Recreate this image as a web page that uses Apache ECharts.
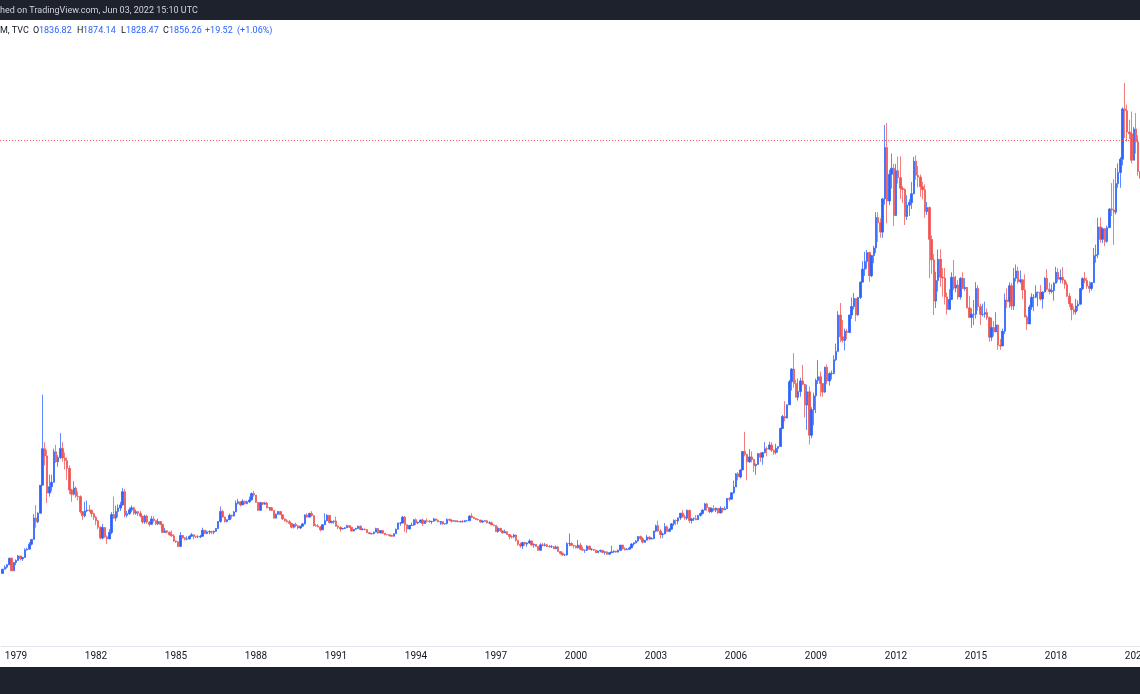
<!DOCTYPE html>
<html>
<head>
<meta charset="utf-8">
<title>Gold monthly</title>
<script src="https://cdn.jsdelivr.net/npm/echarts@6/dist/echarts.min.js"></script>
<style>
  html, body { margin: 0; padding: 0; background: #ffffff; }
  #chart { width: 1140px; height: 694px; }
</style>
</head>
<body>
<div id="chart"></div>
<script>
// monthly candles visible in the frame: Jul 1978 .. Mar 2021
const firstYear = 1978;
const firstMonth = 7;
const firstOpen = 184;

const closes = [
  200.3, 208.1, 217.1, 242.6, 194.0, 226.0,                      // 1978 (Jul-Dec)
  233.7, 251.3, 240.1, 245.3, 274.6, 277.5, 296.5, 315.1, 397.3, 382.8, 415.7, 524.0, // 1979
  665, 637, 494, 518, 535, 653, 614, 631, 666, 629, 619, 589,    // 1980
  506, 489, 513, 482, 480, 422, 406, 425, 428, 427, 414, 400,    // 1981
  387, 362, 320, 361, 325, 317, 342, 411, 397, 423, 436, 448,    // 1982
  499, 408, 414, 429, 437, 416, 422, 416, 405, 382, 405, 382,    // 1983
  373, 394, 388, 375, 384, 373, 342, 348, 343, 333, 329, 309,    // 1984
  306, 288, 330, 321, 316, 317, 327, 333, 326, 325, 325, 327,    // 1985
  350, 338, 344, 345, 343, 346, 357, 384, 423, 401, 384, 391,    // 1986
  408, 405, 421, 454, 460, 448, 462, 453, 460, 467, 492, 486,    // 1987
  458, 427, 457, 451, 455, 437, 437, 427, 397, 412, 423, 410,    // 1988
  394, 387, 383, 377, 362, 373, 368, 359, 366, 375, 409, 401,    // 1989
  415, 407, 368, 367, 363, 352, 372, 387, 408, 380, 384, 386,    // 1990
  366, 362, 355, 357, 360, 368, 362, 347, 354, 357, 366, 353,    // 1991
  354, 353, 341, 337, 337, 343, 357, 340, 349, 339, 334, 333,    // 1992
  330, 327, 337, 354, 378, 378, 401, 372, 355, 369, 370, 391,    // 1993
  378, 381, 390, 376, 387, 385, 384, 385, 394, 389, 383, 383,    // 1994
  375, 376, 392, 389, 385, 387, 383, 383, 384, 383, 387, 387,    // 1995
  405, 400, 396, 392, 390, 382, 385, 387, 379, 379, 371, 369,    // 1996
  345, 358, 348, 340, 345, 334, 326, 325, 332, 311, 296, 290,    // 1997
  303, 297, 301, 309, 293, 296, 288, 273, 294, 292, 294, 288,    // 1998
  287, 287, 279, 286, 268, 261, 255, 255, 299, 299, 292, 290,    // 1999
  283, 293, 277, 273, 273, 289, 277, 277, 273, 264, 270, 273,    // 2000
  265, 267, 258, 264, 267, 270, 266, 273, 293, 279, 275, 277,    // 2001
  282, 297, 302, 309, 326, 318, 304, 312, 324, 317, 318, 347,    // 2002
  368, 347, 334, 336, 364, 346, 354, 375, 388, 386, 398, 416,    // 2003
  402, 397, 427, 388, 394, 395, 391, 407, 415, 428, 452, 438,    // 2004
  422, 434, 428, 435, 417, 435, 429, 433, 473, 470, 495, 517,    // 2005
  568, 556, 583, 654, 643, 614, 633, 623, 599, 604, 646, 632,    // 2006
  650, 665, 663, 679, 659, 650, 666, 673, 743, 789, 783, 834,    // 2007
  923, 972, 916, 863, 885, 926, 913, 833, 884, 717, 815, 869,    // 2008
  928, 942, 916, 883, 979, 926, 954, 955, 1008, 1040, 1180, 1096, // 2009
  1082, 1118, 1113, 1180, 1213, 1244, 1181, 1248, 1307, 1357, 1387, 1421, // 2010
  1332, 1410, 1439, 1556, 1536, 1500, 1628, 1826, 1620, 1723, 1746, 1564, // 2011
  1737, 1710, 1669, 1664, 1560, 1604, 1614, 1648, 1773, 1719, 1712, 1675, // 2012
  1663, 1579, 1595, 1472, 1393, 1234, 1313, 1395, 1326, 1323, 1250, 1202, // 2013
  1240, 1326, 1284, 1296, 1250, 1322, 1282, 1287, 1208, 1171, 1183, 1183, // 2014
  1283, 1213, 1183, 1183, 1190, 1171, 1095, 1132, 1115, 1142, 1064, 1061, // 2015
  1118, 1238, 1232, 1293, 1215, 1322, 1350, 1309, 1316, 1277, 1173, 1146, // 2016
  1211, 1249, 1249, 1268, 1268, 1242, 1269, 1322, 1280, 1271, 1275, 1303, // 2017
  1345, 1318, 1325, 1315, 1298, 1253, 1224, 1201, 1192, 1215, 1222, 1282, // 2018
  1321, 1313, 1292, 1283, 1305, 1409, 1413, 1520, 1472, 1513, 1464, 1517, // 2019
  1589, 1585, 1577, 1687, 1730, 1781, 1975, 1968, 1886, 1879, 1777, 1898, // 2020
  1848, 1734, 1708                                               // 2021 (Jan-Mar)
];

const highs = [
  201, 215, 220, 243, 245, 227,
  238, 255, 252, 248, 281, 283, 305, 316, 412, 447, 420, 524,
  873, 690, 660, 565, 565, 665, 680, 640, 725, 690, 650, 630,
  600, 510, 540, 520, 500, 485, 425, 460, 465, 448, 430, 418,
  405, 390, 365, 375, 362, 330, 355, 420, 480, 445, 450, 460,
  513, 510, 425, 438, 446, 440, 430, 425, 425, 405, 410, 410,
  385, 405, 405, 388, 395, 385, 375, 360, 350, 345, 350, 335,
  312, 308, 343, 332, 324, 327, 330, 340, 334, 330, 331, 333,
  360, 351, 350, 350, 348, 350, 359, 386, 442, 430, 403, 392,
  415, 410, 425, 465, 471, 460, 470, 465, 465, 480, 496, 502,
  486, 458, 457, 458, 460, 460, 440, 440, 425, 415, 424, 424,
  410, 395, 393, 390, 375, 375, 380, 370, 368, 377, 412, 416,
  418, 424, 407, 375, 374, 366, 373, 416, 412, 408, 388, 388,
  403, 370, 365, 360, 362, 372, 370, 362, 355, 360, 368, 369,
  358, 358, 354, 343, 340, 345, 360, 358, 350, 350, 340, 336,
  332, 333, 338, 357, 380, 382, 406, 405, 371, 370, 380, 393,
  396, 384, 391, 395, 388, 396, 390, 386, 398, 396, 392, 386,
  380, 377, 396, 396, 393, 389, 389, 389, 387, 390, 390, 390,
  408, 416, 402, 398, 396, 389, 389, 390, 389, 385, 384, 373,
  369, 365, 358, 349, 353, 346, 336, 331, 336, 334, 313, 303,
  306, 306, 304, 316, 310, 300, 297, 290, 300, 302, 301, 298,
  294, 293, 290, 292, 290, 269, 265, 260, 304, 338, 304, 294,
  292, 313, 302, 288, 276, 293, 291, 280, 275, 275, 272, 275,
  273, 270, 268, 265, 291, 273, 271, 276, 293, 293, 285, 282,
  287, 301, 303, 312, 328, 330, 324, 313, 332, 327, 323, 349,
  372, 387, 355, 341, 378, 369, 360, 378, 392, 392, 399, 417,
  428, 411, 430, 429, 398, 400, 409, 410, 419, 431, 456, 456,
  429, 438, 447, 438, 434, 443, 430, 442, 475, 478, 497, 542,
  571, 575, 585, 655, 730, 645, 663, 654, 626, 608, 647, 651,
  652, 690, 673, 692, 690, 662, 684, 674, 746, 795, 848, 835,
  930, 975, 1033, 930, 935, 938, 988, 915, 912, 905, 825, 881,
  935, 1006, 962, 917, 981, 990, 960, 966, 1025, 1070, 1195, 1227,
  1161, 1128, 1127, 1181, 1248, 1265, 1214, 1250, 1310, 1388, 1424, 1431,
  1424, 1411, 1447, 1577, 1577, 1553, 1632, 1913, 1921, 1740, 1803, 1764,
  1763, 1791, 1792, 1677, 1669, 1642, 1627, 1693, 1790, 1796, 1755, 1722,
  1694, 1684, 1616, 1598, 1487, 1416, 1347, 1433, 1434, 1361, 1361, 1267,
  1280, 1345, 1392, 1331, 1315, 1326, 1345, 1323, 1287, 1255, 1206, 1238,
  1307, 1295, 1224, 1224, 1232, 1205, 1174, 1170, 1157, 1191, 1143, 1088,
  1128, 1263, 1283, 1306, 1304, 1362, 1375, 1367, 1352, 1317, 1337, 1181,
  1220, 1264, 1261, 1295, 1270, 1296, 1270, 1326, 1357, 1306, 1299, 1307,
  1366, 1361, 1356, 1365, 1317, 1309, 1265, 1224, 1214, 1243, 1237, 1284,
  1326, 1346, 1324, 1310, 1306, 1439, 1452, 1555, 1557, 1518, 1516, 1525,
  1592, 1689, 1704, 1747, 1765, 1789, 1981, 2075, 1992, 1933, 1965, 1905,
  1959, 1873, 1755
];

const lows = [
  183, 199, 203, 216, 193, 193,
  216, 233, 234, 232, 245, 272, 277, 292, 316, 360, 378, 415,
  524, 600, 455, 480, 500, 535, 610, 595, 625, 615, 585, 545,
  490, 460, 485, 475, 465, 415, 390, 400, 420, 420, 400, 390,
  370, 355, 315, 315, 320, 297, 330, 335, 395, 385, 400, 425,
  445, 400, 400, 410, 420, 410, 410, 405, 400, 375, 375, 375,
  365, 372, 380, 370, 370, 370, 340, 340, 337, 330, 325, 306,
  301, 285, 285, 318, 311, 312, 315, 325, 315, 320, 320, 320,
  326, 335, 335, 335, 335, 335, 345, 355, 380, 400, 380, 381,
  390, 395, 404, 420, 450, 442, 448, 450, 451, 455, 466, 480,
  456, 425, 427, 447, 448, 435, 425, 425, 395, 397, 410, 410,
  390, 383, 380, 372, 358, 357, 362, 353, 355, 366, 372, 400,
  400, 403, 365, 364, 362, 346, 351, 371, 385, 376, 377, 375,
  365, 355, 345, 355, 355, 360, 360, 347, 346, 353, 356, 351,
  350, 350, 340, 336, 335, 335, 344, 336, 339, 338, 331, 331,
  326, 326, 327, 337, 355, 367, 377, 344, 340, 355, 369, 368,
  371, 374, 379, 367, 375, 380, 378, 374, 386, 385, 381, 371,
  372, 372, 373, 387, 380, 384, 382, 382, 381, 380, 381, 385,
  387, 397, 393, 390, 388, 381, 379, 385, 376, 374, 371, 366,
  344, 341, 345, 337, 341, 335, 315, 318, 320, 307, 290, 283,
  278, 291, 287, 298, 291, 283, 286, 271, 273, 288, 288, 285,
  284, 282, 277, 278, 269, 257, 252, 251, 253, 289, 290, 280,
  280, 280, 276, 272, 263, 270, 276, 271, 270, 263, 264, 265,
  262, 256, 256, 255, 262, 263, 263, 264, 271, 276, 272, 274,
  276, 282, 290, 299, 306, 313, 300, 302, 312, 313, 315, 316,
  343, 344, 319, 320, 335, 342, 343, 353, 367, 370, 373, 390,
  399, 391, 390, 378, 376, 386, 389, 390, 403, 411, 427, 426,
  416, 418, 424, 420, 414, 415, 418, 434, 433, 462, 470, 491,
  517, 543, 550, 584, 635, 543, 610, 612, 574, 564, 603, 613,
  603, 647, 636, 662, 652, 641, 643, 649, 673, 740, 770, 782,
  834, 889, 900, 862, 850, 865, 910, 785, 737, 681, 705, 755,
  802, 914, 866, 865, 880, 913, 908, 932, 952, 1003, 1041, 1075,
  1074, 1044, 1086, 1110, 1165, 1202, 1156, 1177, 1242, 1317, 1331, 1359,
  1308, 1326, 1380, 1419, 1462, 1478, 1478, 1606, 1534, 1604, 1668, 1523,
  1562, 1687, 1627, 1612, 1527, 1547, 1562, 1589, 1646, 1702, 1672, 1636,
  1626, 1555, 1566, 1322, 1338, 1180, 1207, 1271, 1290, 1251, 1221, 1182,
  1202, 1238, 1277, 1268, 1240, 1240, 1282, 1274, 1206, 1183, 1131, 1142,
  1167, 1197, 1142, 1175, 1170, 1162, 1077, 1080, 1098, 1137, 1046, 1046,
  1061, 1107, 1208, 1208, 1200, 1200, 1310, 1301, 1302, 1241, 1171, 1122,
  1146, 1200, 1195, 1245, 1214, 1236, 1205, 1267, 1274, 1260, 1264, 1236,
  1302, 1307, 1303, 1301, 1282, 1250, 1211, 1160, 1180, 1182, 1196, 1221,
  1276, 1303, 1281, 1266, 1274, 1311, 1382, 1400, 1459, 1458, 1446, 1459,
  1517, 1562, 1451, 1568, 1671, 1671, 1757, 1863, 1849, 1859, 1765, 1777,
  1803, 1717, 1677
];

const tickYears = [1979, 1982, 1985, 1988, 1991, 1994, 1997, 2000, 2003, 2006, 2009, 2012, 2015, 2018, 2021];
const lastPrice = 1856.26;

const upColor = '#2962FF';
const downColor = '#EF5350';

let months = [];
let candles = [];
closes.forEach((c, i) => {
    let m = firstMonth - 1 + i;
    let y = firstYear + Math.floor(m / 12);
    months.push(y + '-' + String(m % 12 + 1).padStart(2, '0'));
    let o = i === 0 ? firstOpen : closes[i - 1];
    let lo = Math.min(lows[i], o, c);
    let hi = Math.max(highs[i], o, c);
    candles.push([o, c, lo, hi]);
});
const tickSet = new Set(tickYears.map(y => y + '-01'));

const hdrFont = '9px Roboto';
function hdr(x, text, fill) {
    return { type: 'text', x: x, y: 31, style: { text: text, fill: fill, font: hdrFont, verticalAlign: 'middle' } };
}

let myChart = echarts.init(document.getElementById('chart'));
myChart.setOption({
    animation: false,
    backgroundColor: '#ffffff',
    grid: {
        left: 1.56,
        top: 21,
        width: 1140,
        height: 625,
        containLabel: false,
        outerBoundsMode: 'none'
    },
    xAxis: {
        type: 'category',
        data: months,
        boundaryGap: true,
        axisLine: { onZero: false, lineStyle: { color: '#E0E3EB', width: 1 } },
        axisTick: { show: false },
        splitLine: { show: false },
        axisLabel: {
            interval: (idx, val) => tickSet.has(val),
            formatter: v => v.slice(0, 4),
            color: '#131722',
            fontFamily: 'Roboto',
            fontSize: 10,
            margin: 5
        }
    },
    yAxis: {
        type: 'value',
        min: -96,
        max: 2314,
        show: false,
        splitLine: { show: false }
    },
    series: [{
        type: 'candlestick',
        data: candles,
        barWidth: 2,
        itemStyle: {
            color: upColor,
            color0: downColor,
            borderColor: 'rgba(41,98,255,0.75)',
            borderColor0: 'rgba(239,83,80,0.75)',
            borderWidth: 1
        }
    }],
    graphic: [
        { type: 'rect', shape: { x: 0, y: 0, width: 1140, height: 20 }, style: { fill: '#1E222D' } },
        { type: 'rect', shape: { x: 0, y: 667, width: 1140, height: 27 }, style: { fill: '#1E222D' } },
        { type: 'text', x: 0, y: 11, style: { text: 'hed on TradingView.com, Jun 03, 2022 15:10 UTC', fill: '#D1D4DC', font: hdrFont, verticalAlign: 'middle' } },
        hdr(0, 'M, TVC', '#131722'),
        hdr(33, 'O', '#131722'),
        hdr(39, '1836.82', upColor),
        hdr(77, 'H', '#131722'),
        hdr(83, '1874.14', upColor),
        hdr(121, 'L', '#131722'),
        hdr(126, '1828.47', upColor),
        hdr(163, 'C', '#131722'),
        hdr(169, '1856.26', upColor),
        hdr(205, '+19.52', upColor),
        hdr(237, '(+1.06%)', upColor)
    ]
});

// dotted last-price line, placed through the y scale
let py = Math.round(myChart.convertToPixel({ yAxisIndex: 0 }, lastPrice)) + 0.5;
myChart.setOption({
    graphic: [{
        id: 'priceLine',
        type: 'line',
        z: 10,
        shape: { x1: 0, y1: py, x2: 1140, y2: py },
        style: { stroke: '#F23645', lineWidth: 1, lineDash: [1, 2], opacity: 0.85 }
    }]
});
</script>
</body>
</html>
